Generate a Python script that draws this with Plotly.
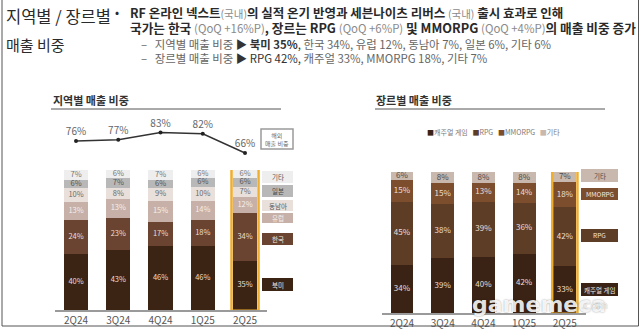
import plotly.graph_objects as go

W, H = 640, 329
FONT = "Noto Sans CJK KR"

# ---------------- data ----------------
quarters = ["2Q24", "3Q24", "4Q24", "1Q25", "2Q25"]

# region share (%), bottom -> top
na_share = [40, 43, 46, 46, 35]      # 북미
kr_share = [24, 23, 17, 18, 34]      # 한국
eu_share = [13, 13, 15, 14, 12]      # 유럽
sea_share = [10, 8, 9, 10, 7]        # 동남아
jp_share = [6, 7, 6, 6, 6]           # 일본
etc_region_share = [7, 6, 7, 6, 6]   # 기타
overseas_share = [76, 77, 83, 82, 66]  # 해외 매출 비중

# genre share (%), bottom -> top
casual_share = [34, 39, 40, 42, 33]  # 캐주얼 게임
rpg_share = [45, 38, 39, 36, 42]     # RPG
mmorpg_share = [15, 15, 13, 14, 18]  # MMORPG
etc_genre_share = [6, 8, 8, 8, 7]    # 기타

region_series = [
    ("북미", na_share, "#3c2414", "#eadfd6"),
    ("한국", kr_share, "#6a4430", "#eadfd6"),
    ("유럽", eu_share, "#c6b0a7", "#f6efeb"),
    ("동남아", sea_share, "#e9e0db", "#6a6a6a"),
    ("일본", jp_share, "#b8b8b8", "#555555"),
    ("기타", etc_region_share, "#eeeeee", "#777777"),
]
genre_series = [
    ("캐주얼 게임", casual_share, "#3a2314", "#eadfd6"),
    ("RPG", rpg_share, "#5e3d27", "#eadfd6"),
    ("MMORPG", mmorpg_share, "#7c4e2e", "#eadfd6"),
    ("기타", etc_genre_share, "#c9b8ae", "#4a4a4a"),
]


def px(x):
    return x / W


def py(y):
    return 1 - y / H


fig = go.Figure()

# ---------------- left stacked bars ----------------
for name, vals, col, tcol in region_series:
    fig.add_trace(go.Bar(x=quarters, y=vals, name=name, marker=dict(color=col, line=dict(width=0)),
                         width=0.57, xaxis="x", yaxis="y", showlegend=False, hoverinfo="skip"))
cum = [0] * 5
for name, vals, col, tcol in region_series:
    mids = [c + v / 2 for c, v in zip(cum, vals)]
    fig.add_trace(go.Scatter(x=quarters, y=mids, mode="text", text=[f"{v}%" for v in vals],
                             textfont=dict(size=7.5, color=tcol, family=FONT), xaxis="x", yaxis="y",
                             showlegend=False, cliponaxis=False, hoverinfo="skip"))
    cum = [c + v for c, v in zip(cum, vals)]

# overseas line
fig.add_trace(go.Scatter(x=quarters, y=overseas_share, mode="lines+markers+text",
                         text=[f"{v}%" for v in overseas_share], textposition="top center",
                         textfont=dict(size=10, color="#666666", family=FONT),
                         line=dict(color="#333333", width=1.5), marker=dict(size=4, color="#222222"),
                         xaxis="x2", yaxis="y2", showlegend=False, cliponaxis=False, hoverinfo="skip"))

# ---------------- right stacked bars ----------------
for name, vals, col, tcol in genre_series:
    fig.add_trace(go.Bar(x=quarters, y=vals, name=name, marker=dict(color=col, line=dict(width=0)),
                         width=0.56, xaxis="x3", yaxis="y3", showlegend=False, hoverinfo="skip"))
cum = [0] * 5
for name, vals, col, tcol in genre_series:
    mids = [c + v / 2 for c, v in zip(cum, vals)]
    fig.add_trace(go.Scatter(x=quarters, y=mids, mode="text", text=[f"{v}%" for v in vals],
                             textfont=dict(size=8, color=tcol, family=FONT), xaxis="x3", yaxis="y3",
                             showlegend=False, cliponaxis=False, hoverinfo="skip"))
    cum = [c + v for c, v in zip(cum, vals)]

tickfont = dict(size=10, color="#555555", family=FONT)
fig.update_layout(
    width=W, height=H, margin=dict(l=0, r=0, t=0, b=0),
    paper_bgcolor="white", plot_bgcolor="rgba(0,0,0,0)",
    barmode="stack", font=dict(family=FONT),
    xaxis=dict(domain=[px(54.9), px(267)], range=[-0.5, 4.52], showgrid=False, zeroline=False,
               showline=True, linecolor="#9a9a9a", linewidth=2, ticks="", tickfont=tickfont,
               anchor="y", fixedrange=True),
    yaxis=dict(domain=[py(310), py(170)], range=[0, 100], visible=False, fixedrange=True),
    xaxis2=dict(domain=[px(54.9), px(267)], range=[-0.5, 4.52], visible=False, anchor="y2",
                overlaying="x", fixedrange=True),
    yaxis2=dict(domain=[py(160.2), py(124.2)], range=[60, 90], visible=False, anchor="x2",
                fixedrange=True),
    xaxis3=dict(domain=[px(381.6), px(586)], range=[-0.5, 4.52], showgrid=False, zeroline=False,
                showline=True, linecolor="#9a9a9a", linewidth=2, ticks="", tickfont=tickfont,
                anchor="y3", fixedrange=True),
    yaxis3=dict(domain=[py(313), py(172)], range=[0, 100], visible=False, anchor="x3",
                fixedrange=True),
)

shapes = []
annos = []

# highlight boxes for 2Q25
shapes.append(dict(type="rect", xref="x", yref="y", x0=3.68, x1=4.32, y0=-0.6, y1=101.4,
                   line=dict(color="#f0ae2e", width=2.5), fillcolor="rgba(0,0,0,0)"))
shapes.append(dict(type="rect", xref="x3", yref="y3", x0=3.69, x1=4.31, y0=-0.5, y1=104.5,
                   line=dict(color="#f0ae2e", width=2.5), fillcolor="rgba(0,0,0,0)"))

# section titles + underline
annos.append(dict(text="<b>지역별 매출 비중</b>", x=px(51), y=py(100), xref="paper", yref="paper",
                  xanchor="left", yanchor="middle", showarrow=False,
                  font=dict(size=11, color="#333333", family=FONT)))
annos.append(dict(text="<b>장르별 매출 비중</b>", x=px(374), y=py(100), xref="paper", yref="paper",
                  xanchor="left", yanchor="middle", showarrow=False,
                  font=dict(size=11, color="#333333", family=FONT)))
shapes.append(dict(type="line", xref="paper", yref="paper", x0=px(51), x1=px(281), y0=py(109),
                   y1=py(109), line=dict(color="#555555", width=1)))
shapes.append(dict(type="line", xref="paper", yref="paper", x0=px(375), x1=px(605), y0=py(109),
                   y1=py(109), line=dict(color="#555555", width=1)))

# 해외 매출 비중 box
shapes.append(dict(type="rect", xref="paper", yref="paper", x0=px(261), x1=px(293), y0=py(149),
                   y1=py(129), line=dict(color="#9a9a9a", width=1.5), fillcolor="white"))
annos.append(dict(text="해외<br>매출 비중", x=px(277), y=py(139), xref="paper", yref="paper",
                  xanchor="center", yanchor="middle", showarrow=False,
                  font=dict(size=6, color="#666666", family=FONT)))

# left custom legend boxes
left_leg = [
    ("기타", 171, 183, "#eeeeee", "#555555"),
    ("일본", 185, 197, "#b8b8b8", "#444444"),
    ("동남아", 200, 211, "#e9e0db", "#555555"),
    ("유럽", 213, 223, "#c6b0a7", "#f6efeb"),
    ("한국", 233, 245, "#6a4430", "#f2e9e2"),
    ("북미", 278, 291, "#3c2414", "#f2e9e2"),
]
for name, y0, y1, col, tcol in left_leg:
    shapes.append(dict(type="rect", xref="paper", yref="paper", x0=px(262), x1=px(293), y0=py(y1),
                       y1=py(y0), line=dict(width=0), fillcolor=col))
    annos.append(dict(text=name, x=px(277.5), y=py((y0 + y1) / 2), xref="paper", yref="paper",
                      xanchor="center", yanchor="middle", showarrow=False,
                      font=dict(size=6.5, color=tcol, family=FONT)))

# right custom legend boxes
right_leg = [
    ("기타", 169, 182, "#c9b8ae", "#4a4a4a"),
    ("MMORPG", 188, 200, "#7c4e2e", "#f2e9e2"),
    ("RPG", 229, 242, "#5e3d27", "#f2e9e2"),
    ("캐주얼 게임", 283, 296, "#3a2314", "#f2e9e2"),
]
for name, y0, y1, col, tcol in right_leg:
    shapes.append(dict(type="rect", xref="paper", yref="paper", x0=px(581), x1=px(618), y0=py(y1),
                       y1=py(y0), line=dict(width=0), fillcolor=col))
    annos.append(dict(text=name, x=px(599.5), y=py((y0 + y1) / 2), xref="paper", yref="paper",
                      xanchor="center", yanchor="middle", showarrow=False,
                      font=dict(size=6.5, color=tcol, family=FONT)))

# right inline legend
leg_html = "   ".join(
    f"<span style='color:{col}'>■</span>{name}" for name, _, col, _ in genre_series
)
annos.append(dict(text=leg_html, x=px(493), y=py(132), xref="paper", yref="paper",
                  xanchor="center", yanchor="middle", showarrow=False,
                  font=dict(size=7, color="#7a7a7a", family=FONT)))

# header
annos.append(dict(text="지역별 / 장르별", x=px(4), y=py(16), xref="paper", yref="paper",
                  xanchor="left", yanchor="middle", showarrow=False,
                  font=dict(size=16.5, color="#2a2a2a", family=FONT)))
annos.append(dict(text="매출 비중", x=px(4), y=py(44), xref="paper", yref="paper",
                  xanchor="left", yanchor="middle", showarrow=False,
                  font=dict(size=15, color="#2a2a2a", family=FONT)))
annos.append(dict(text="•", x=px(117), y=py(11), xref="paper", yref="paper",
                  xanchor="center", yanchor="middle", showarrow=False,
                  font=dict(size=12, color="#2a2a2a", family=FONT)))

g = "#8a8a8a"
line1 = ("<b>RF 온라인 넥스트</b><span style='color:%s;font-size:10.5px'>(국내)</span><b>의 실적 온기 반영과 "
         "세븐나이츠 리버스</b> <span style='color:%s;font-size:10.5px'>(국내)</span> <b>출시 효과로 인해</b>") % (g, g)
line2 = ("<b>국가는 한국</b> <span style='color:%s;font-size:11.4px'>(QoQ +16%%P)</span><b>, 장르는 RPG</b> "
         "<span style='color:%s;font-size:11.4px'>(QoQ +6%%P)</span> <b>및 MMORPG</b> "
         "<span style='color:%s;font-size:11.4px'>(QoQ +4%%P)</span><b>의 매출 비중 증가</b>") % (g, g, g)
line3 = ("–   지역별 매출 비중 <span style='color:#333'>▶ <b>북미 35%</b>,</span> 한국 34%, 유럽 12%, "
         "동남아 7%, 일본 6%, 기타 6%")
line4 = "–   장르별 매출 비중 <span style='color:#333'>▶ RPG 42%,</span> 캐주얼 33%, MMORPG 18%, 기타 7%"

annos.append(dict(text=line1, x=px(128), y=py(13), xref="paper", yref="paper", xanchor="left",
                  yanchor="middle", showarrow=False, font=dict(size=12.5, color="#2a2a2a", family=FONT)))
annos.append(dict(text=line2, x=px(128), y=py(27), xref="paper", yref="paper", xanchor="left",
                  yanchor="middle", showarrow=False, font=dict(size=12.7, color="#2a2a2a", family=FONT)))
annos.append(dict(text=line3, x=px(139), y=py(44), xref="paper", yref="paper", xanchor="left",
                  yanchor="middle", showarrow=False, font=dict(size=11.4, color="#666666", family=FONT)))
annos.append(dict(text=line4, x=px(139), y=py(58), xref="paper", yref="paper", xanchor="left",
                  yanchor="middle", showarrow=False, font=dict(size=11.4, color="#666666", family=FONT)))

# watermark
annos.append(dict(text="<b>gamemeca</b>", x=px(470), y=py(304), xref="paper", yref="paper",
                  xanchor="left", yanchor="middle", showarrow=False,
                  font=dict(size=22, color="rgba(255,255,255,0.9)", family="DejaVu Sans",
                            shadow="0px 0px 2px rgba(0,0,0,0.45)")))
annos.append(dict(text=".com", x=px(579), y=py(305), xref="paper", yref="paper",
                  xanchor="left", yanchor="middle", showarrow=False,
                  font=dict(size=11, color="rgba(245,245,245,0.9)", family="DejaVu Sans",
                            shadow="0px 0px 1px rgba(0,0,0,0.35)")))

# outer frame
shapes.append(dict(type="line", xref="paper", yref="paper", x0=px(2), x1=px(2), y0=py(0), y1=py(326),
                   line=dict(color="#555555", width=1)))
shapes.append(dict(type="line", xref="paper", yref="paper", x0=px(638.5), x1=px(638.5), y0=py(0),
                   y1=py(326), line=dict(color="#555555", width=1)))
shapes.append(dict(type="line", xref="paper", yref="paper", x0=px(2), x1=px(638.5), y0=py(326),
                   y1=py(326), line=dict(color="#555555", width=1)))

fig.update_layout(shapes=shapes, annotations=annos)
fig.write_html("out.html")
